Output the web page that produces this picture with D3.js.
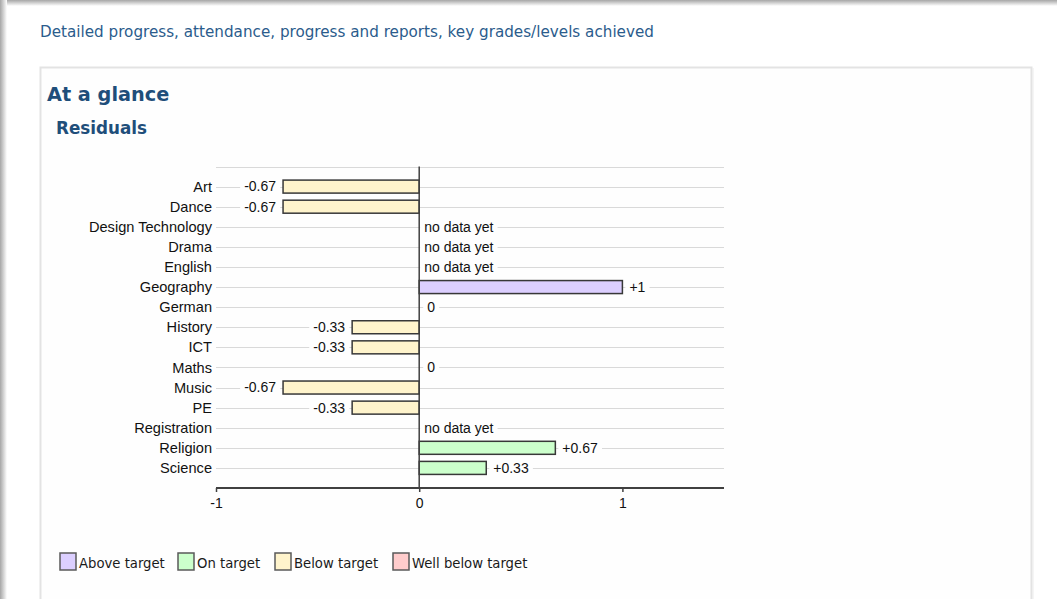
<!DOCTYPE html>
<html>
<head>
<meta charset="utf-8">
<script src="https://cdn.jsdelivr.net/npm/d3@7/dist/d3.min.js"></script>
<style>
html,body{margin:0;padding:0;background:#fff;}
svg{display:block;}
</style>
</head>
<body>
<svg id="c" width="1057" height="599"></svg>
<script>
const categories = ["Art","Dance","Design Technology","Drama","English","Geography","German","History","ICT","Maths","Music","PE","Registration","Religion","Science"];
const values = [-0.67,-0.67,null,null,null,1,0,-0.33,-0.33,0,-0.67,-0.33,null,0.67,0.33];
const statuses = ["below","below",null,null,null,"above",null,"below","below",null,"below","below",null,"on","on"];
const xTicks = [-1,0,1];
const legendKeys = ["above","on","below","wellbelow"];
const legendLabels = ["Above target","On target","Below target","Well below target"];

const colors = {above:"#dccfff", on:"#ccffcc", below:"#fff4cc", wellbelow:"#ffcccc"};
const uiFont = "'DejaVu Sans',sans-serif";
const legFont = "'DejaVu Sans Condensed','DejaVu Sans',sans-serif";
const chartFont = "'Liberation Sans',Arial,sans-serif";

const svg = d3.select("#c");

// page shadow (top and left)
const defs = svg.append("defs");
const gt = defs.append("linearGradient").attr("id","gt").attr("x1",0).attr("y1",0).attr("x2",0).attr("y2",1);
gt.append("stop").attr("offset","0%").attr("stop-color","#a6a6a6");
gt.append("stop").attr("offset","100%").attr("stop-color","#ffffff");
const gl = defs.append("linearGradient").attr("id","gl").attr("x1",0).attr("y1",0).attr("x2",1).attr("y2",0);
gl.append("stop").attr("offset","0%").attr("stop-color","#a6a6a6");
gl.append("stop").attr("offset","100%").attr("stop-color","#ffffff");
svg.append("rect").attr("x",0).attr("y",0).attr("width",1057).attr("height",6).attr("fill","url(#gt)");
svg.append("rect").attr("x",0).attr("y",0).attr("width",7).attr("height",599).attr("fill","url(#gl)");

// header text
svg.append("text").attr("x",40).attr("y",37)
  .attr("font-family",uiFont).attr("font-size",15.2).attr("fill","#2b5c8c")
  .text("Detailed progress, attendance, progress and reports, key grades/levels achieved");

// panel box
svg.append("rect").attr("x",40.5).attr("y",67.5).attr("width",991).attr("height",560)
  .attr("fill","#fefefe").attr("stroke","#e3e3e3").attr("stroke-width",2);
svg.append("line").attr("x1",1033).attr("x2",1033).attr("y1",68).attr("y2",599).attr("stroke","#ececec").attr("stroke-width",1);

svg.append("text").attr("x",47).attr("y",101)
  .attr("font-family",uiFont).attr("font-size",19.3).attr("font-weight","bold").attr("fill","#1f4e7a")
  .text("At a glance");
svg.append("text").attr("x",56).attr("y",134)
  .attr("font-family",uiFont).attr("font-size",16.8).attr("font-weight","bold").attr("fill","#1f4e7a")
  .text("Residuals");

// chart scales
const x = d3.scaleLinear().domain([-1,1.5]).range([216,724]);
const y = d3.scalePoint().domain(categories).range([166.5,488]).padding(1);
const barH = 13;

const g = svg.append("g");

// gridlines
const gridYs = [y.range()[0]].concat(categories.map(c=>y(c)));
g.selectAll("line.grid").data(gridYs).join("line")
  .attr("x1",x(-1)).attr("x2",x(1.5))
  .attr("y1",d=>Math.round(d)+0.5).attr("y2",d=>Math.round(d)+0.5)
  .attr("stroke","#d9d9d9").attr("stroke-width",1);

// category labels
g.selectAll("text.cat").data(categories).join("text")
  .attr("x",x(-1)-4).attr("y",d=>y(d)).attr("dy","0.35em")
  .attr("text-anchor","end").attr("font-family",chartFont).attr("font-size",14.6).attr("fill","#111")
  .text(d=>d);

// bars
const rows = categories.map((c,i)=>({c, v:values[i], s:statuses[i]}));
g.selectAll("rect.bar").data(rows.filter(d=>d.v!==null && d.v!==0)).join("rect")
  .attr("x",d=>Math.min(x(0),x(d.v))).attr("width",d=>Math.abs(x(d.v)-x(0)))
  .attr("y",d=>y(d.c)-barH/2).attr("height",barH)
  .attr("fill",d=>colors[d.s]).attr("stroke","#383838").attr("stroke-width",1.5);

// value labels with white backgrounds
function labelText(v){
  if(v===null) return "no data yet";
  if(v===0) return "0";
  return (v>0?"+":"") + String(v);
}
const lbl = g.selectAll("g.lbl").data(rows).join("g");
lbl.each(function(d){
  const sel = d3.select(this);
  let tx, anchor;
  if(d.v===null){ tx = x(0)+5; anchor="start"; }
  else if(d.v===0){ tx = x(0)+8; anchor="start"; }
  else if(d.v>0){ tx = x(d.v)+7; anchor="start"; }
  else { tx = x(d.v)-7; anchor="end"; }
  const bg = sel.append("rect").attr("fill","#fefefe");
  const t = sel.append("text").attr("x",tx).attr("y",y(d.c)).attr("dy","0.35em")
    .attr("text-anchor",anchor).attr("font-family",chartFont).attr("font-size",14).attr("fill","#111")
    .text(labelText(d.v));
  const b = t.node().getBBox();
  bg.attr("x",b.x-4).attr("y",y(d.c)-4).attr("width",b.width+8).attr("height",8);
});

// zero line
g.append("line").attr("x1",x(0)).attr("x2",x(0)).attr("y1",y.range()[0]).attr("y2",488)
  .attr("stroke","#404040").attr("stroke-width",1.5);

// x axis
const axis = d3.axisBottom(x).tickValues(xTicks).tickSize(4).tickFormat(d => String(d));
const ax = svg.append("g").attr("transform","translate(0,488)").call(axis);
ax.select(".domain").attr("stroke","#404040").attr("stroke-width",1.8).attr("d",`M${x(-1)},0H${x(1.5)}`);
ax.selectAll(".tick line").attr("stroke","#404040").attr("stroke-width",1.5);
ax.selectAll(".tick text").attr("font-family",chartFont).attr("font-size",14).attr("fill","#111").attr("dy","0.95em");

// legend
const legX = [60,178,275,393];
const leg = svg.selectAll("g.leg").data(legendKeys).join("g")
  .attr("transform",(d,i)=>`translate(${legX[i]},553)`);
leg.append("rect").attr("width",16).attr("height",17)
  .attr("fill",d=>colors[d]).attr("stroke","#5a5a5a").attr("stroke-width",1.5);
leg.append("text").attr("x",19).attr("y",15)
  .attr("font-family",legFont).attr("font-size",14.7).attr("fill","#1a1a1a")
  .text((d,i)=>legendLabels[i]);
</script>
</body>
</html>
